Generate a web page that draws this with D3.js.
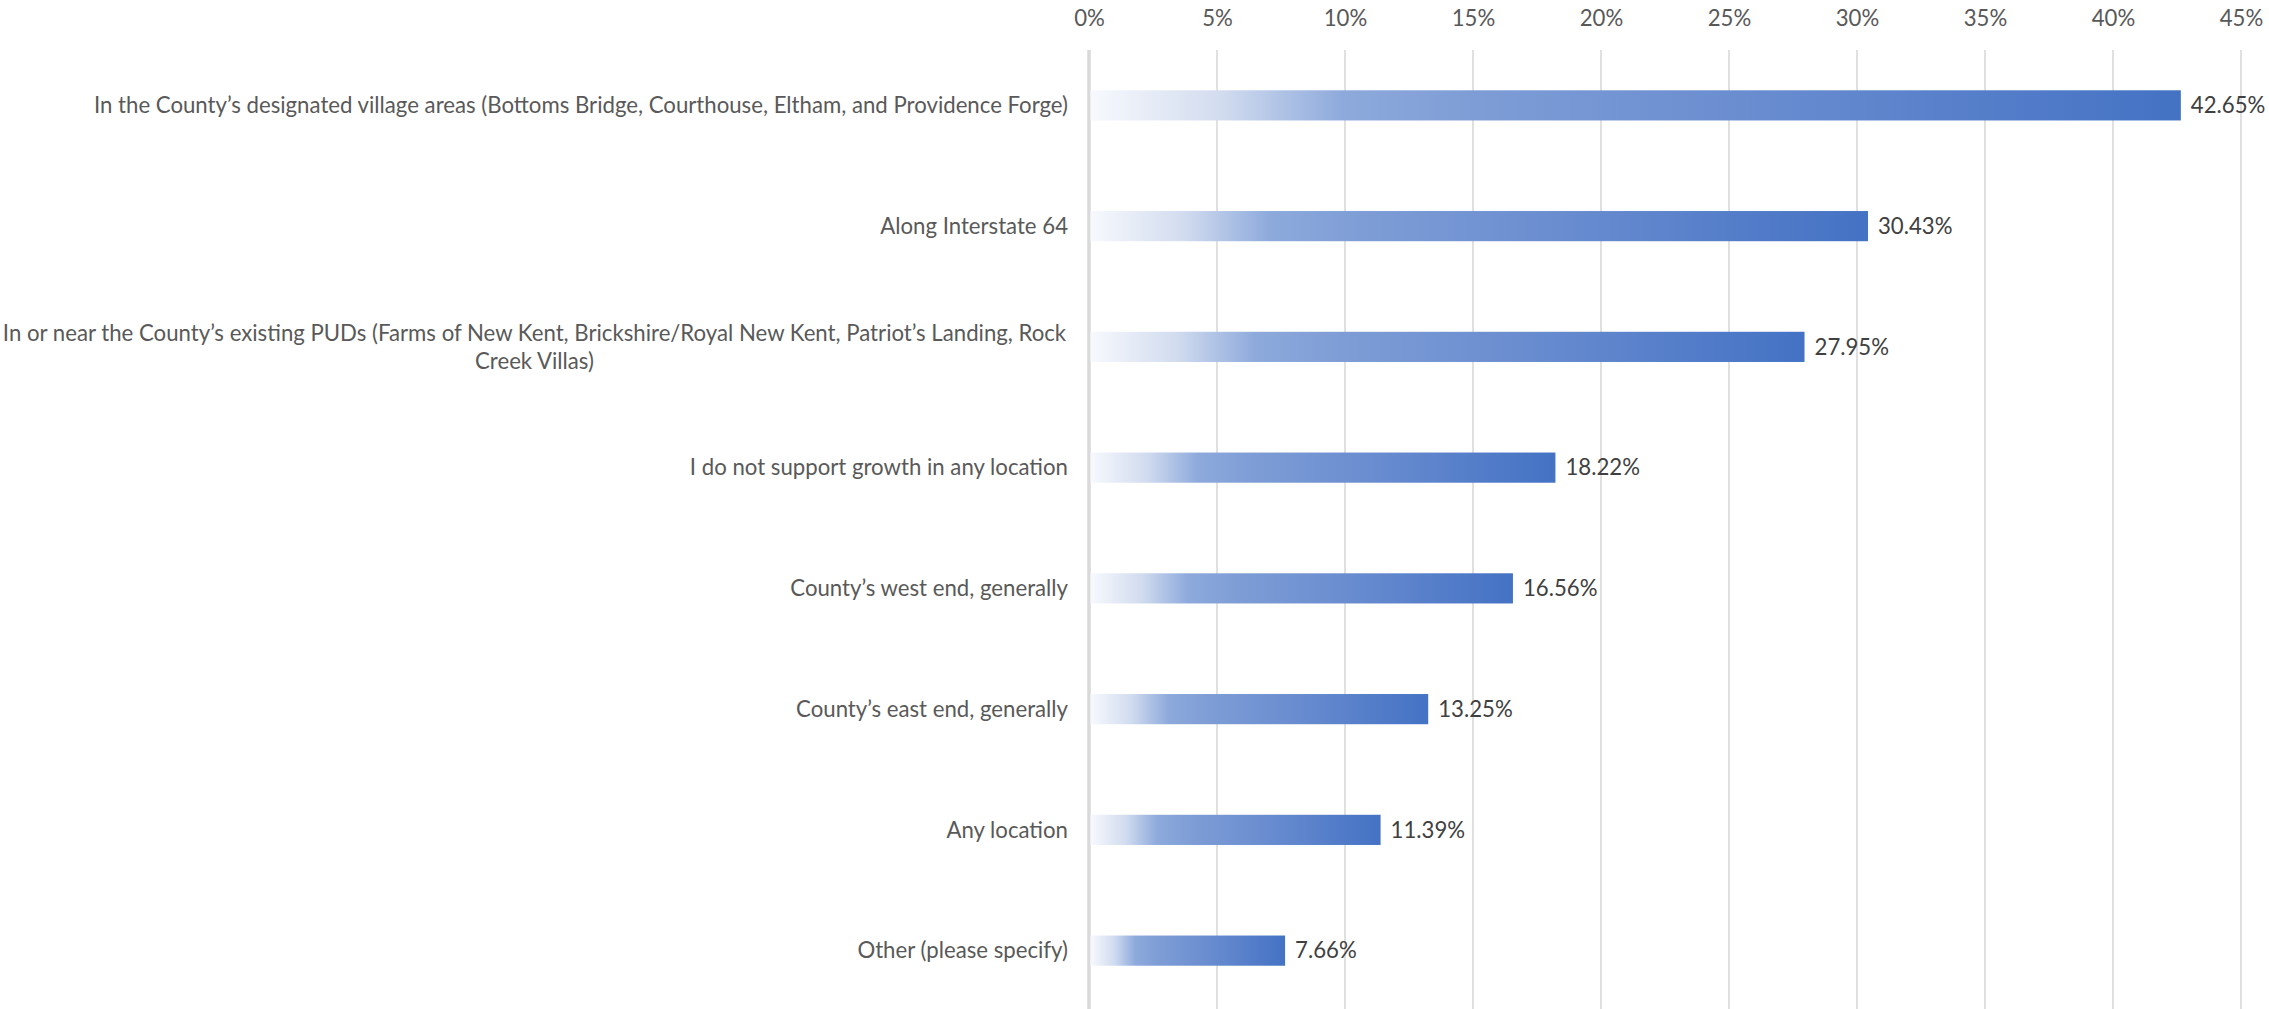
<!DOCTYPE html>
<html>
<head>
<meta charset="utf-8">
<script src="https://cdn.jsdelivr.net/npm/d3@7"></script>
<style>
  html, body { margin: 0; padding: 0; background: #ffffff; }
  svg { display: block; }
  text { font-family: Lato, "Open Sans", "Noto Sans", sans-serif; }
</style>
</head>
<body>
<svg id="chart" width="2269" height="1009"></svg>
<script>
// Survey responses: preferred locations for growth
const categories = [
  "In the County\u2019s designated village areas (Bottoms Bridge, Courthouse, Eltham, and Providence Forge)",
  "Along Interstate 64",
  "In or near the County\u2019s existing PUDs (Farms of New Kent, Brickshire/Royal New Kent, Patriot\u2019s Landing, Rock Creek Villas)",
  "I do not support growth in any location",
  "County\u2019s west end, generally",
  "County\u2019s east end, generally",
  "Any location",
  "Other (please specify)"
];
const shares = [0.4265, 0.3043, 0.2795, 0.1822, 0.1656, 0.1325, 0.1139, 0.0766];
const tickValues = [0, 0.05, 0.10, 0.15, 0.20, 0.25, 0.30, 0.35, 0.40, 0.45];

const W = 2269, H = 1009;
const svg = d3.select("#chart");

const x = d3.scaleLinear().domain([0, 0.45]).range([1089, 2241]);
const y = d3.scaleBand().domain(categories).range([45, 1011])
  .paddingInner(0.75).paddingOuter(0.375);

const pct = d3.format(".0%");
const pct2 = d3.format(".2%");

// Horizontal fade used by every bar
const defs = svg.append("defs");
const grad = defs.append("linearGradient")
  .attr("id", "barFade")
  .attr("x1", "0").attr("x2", "1").attr("y1", "0").attr("y2", "0");
[
  [0.00, "#f7f9fd"],
  [0.12, "#d2dcef"],
  [0.23, "#8eaadc"],
  [0.35, "#7e9dd6"],
  [0.60, "#6a8dd0"],
  [1.00, "#4472c4"]
].forEach(([o, c]) => grad.append("stop").attr("offset", o).attr("stop-color", c));

// Font size chosen so the longest one-line label spans the label column
const probe = svg.append("text").attr("font-size", 20).text(categories[0]);
const probeW = probe.node().getComputedTextLength();
probe.remove();
const fs = Math.round(20 * 975 / probeW * 10) / 10;

// Vertical gridlines and top axis labels
const axisTop = d3.axisTop(x).tickValues(tickValues).tickFormat(pct).tickSize(0).tickPadding(0);
const gAxis = svg.append("g").attr("transform", "translate(0,26)").call(axisTop);
gAxis.select(".domain").remove();
gAxis.selectAll("text")
  .attr("font-size", fs)
  .attr("fill", "#595959")
  .attr("font-family", "Lato, 'Open Sans', sans-serif");

svg.append("g").selectAll("line")
  .data(tickValues)
  .join("line")
  .attr("x1", d => x(d)).attr("x2", d => x(d))
  .attr("y1", 50).attr("y2", H)
  .attr("stroke", "#d9d9d9")
  .attr("stroke-width", d => d === 0 ? 3.5 : 1.6);

// Bars
svg.append("g").selectAll("rect")
  .data(shares)
  .join("rect")
  .attr("x", x(0) + 1.5)
  .attr("y", (d, i) => y(categories[i]))
  .attr("width", d => x(d) - x(0) - 1.5)
  .attr("height", y.bandwidth())
  .attr("fill", "url(#barFade)");

// Value labels
svg.append("g").selectAll("text")
  .data(shares)
  .join("text")
  .attr("x", d => x(d) + 10)
  .attr("y", (d, i) => y(categories[i]) + y.bandwidth() / 2)
  .attr("dy", "0.35em")
  .attr("font-size", fs)
  .attr("fill", "#404040")
  .text(d => pct2(d));

// Category labels, wrapped to the label column width
const labelRight = 1068, labelWidth = 1066, lineH = 28;
const gLab = svg.append("g");
categories.forEach(cat => {
  const cy = y(cat) + y.bandwidth() / 2;
  const t = gLab.append("text").attr("font-size", fs).attr("fill", "#595959");
  const words = cat.split(" ");
  const lines = [];
  let cur = [];
  words.forEach(w => {
    cur.push(w);
    t.text(cur.join(" "));
    if (t.node().getComputedTextLength() > labelWidth && cur.length > 1) {
      cur.pop();
      lines.push(cur.join(" "));
      cur = [w];
    }
  });
  lines.push(cur.join(" "));
  t.text(null);
  const multi = lines.length > 1;
  t.attr("text-anchor", multi ? "middle" : "end");
  const tx = multi ? (labelRight - labelWidth / 2 - 0.5) : labelRight;
  lines.forEach((ln, k) => {
    t.append("tspan")
      .attr("x", tx)
      .attr("y", cy + (k - (lines.length - 1) / 2) * lineH)
      .attr("dy", "0.35em")
      .text(ln);
  });
});
</script>
</body>
</html>
